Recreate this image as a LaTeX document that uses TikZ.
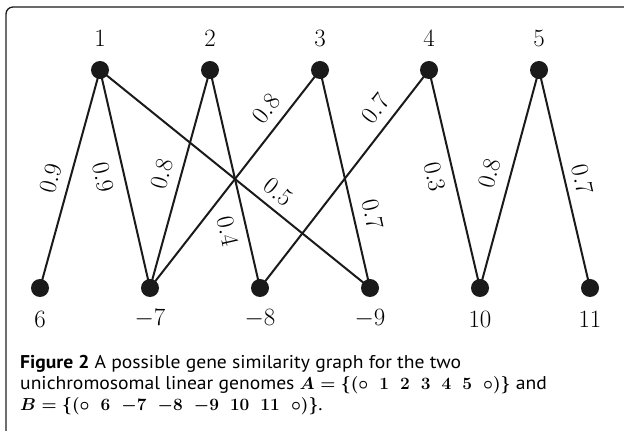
\documentclass[tikz,border=0pt]{standalone}
\usepackage{fontspec}
\usepackage{xcolor}
\usepackage{tikz}
\usetikzlibrary{positioning}
\newfontfamily\capfont[FakeStretch=1.06]{PT Sans}
\definecolor{ink}{HTML}{1A1A1A}
\definecolor{rule}{HTML}{6E6E6E}
\newcommand\gsp{\mskip 10mu}
\tikzset{
  vtx/.style={circle, fill=ink, inner sep=0pt, minimum size=18pt},
  vlbl/.style={font=\fontsize{30}{30}\selectfont, inner sep=0pt},
  edge/.style={draw=ink, line width=2pt},
  wlbl/.style={font=\fontsize{26}{26}\selectfont, sloped, inner sep=0pt},
}
\begin{document}
\begin{tikzpicture}[x=1pt, y=1pt]
        \useasboundingbox (0,0) rectangle (624,431);
        % Frame
        \draw[rule, line width=1.3pt] (6,0) -- (6,417);
        \draw[ink, line width=1.3pt] (6,417) arc[start angle=180, end angle=90, radius=7] -- (624,424);
        % Genes of A
        \node[vtx] (t1) at (100,361) {};
        \node[vtx] (t2) at (210,361) {};
        \node[vtx] (t3) at (320,361) {};
        \node[vtx] (t4) at (429,361) {};
        \node[vtx] (t5) at (539,361) {};
        % Genes of B
        \node[vtx] (b6) at (40,143) {};
        \node[vtx] (b7) at (150,143) {};
        \node[vtx] (b8) at (260,143) {};
        \node[vtx] (b9) at (370,143) {};
        \node[vtx] (b10) at (480,143) {};
        \node[vtx] (b11) at (590,143) {};
        % Labels
        \node[vlbl] (l1) at (100,393) {$1$};
        \node[vlbl] (l2) at (210,393) {$2$};
        \node[vlbl] (l3) at (320,393) {$3$};
        \node[vlbl] (l4) at (429,393) {$4$};
        \node[vlbl] (l5) at (539,393) {$5$};
        \node[vlbl] (l6) at (40,112) {$6$};
        \node[vlbl] (l7) at (150,112) {$-7$};
        \node[vlbl] (l8) at (260,112) {$-8$};
        \node[vlbl] (l9) at (370,112) {$-9$};
        \node[vlbl] (l10) at (480,112) {$10$};
        \node[vlbl] (l11) at (590,112) {$11$};
        % Similarity edges
        \draw[edge] (t1.center) -- node[wlbl, above=10pt, pos=0.52] {$0.9$} (b6.center);
        \draw[edge] (t1.center) -- node[wlbl, below=12pt, pos=0.47] {$0.9$} (b7.center);
        \draw[edge] (t1.center) -- node[wlbl, above=8pt, pos=0.62] {$0.5$} (b9.center);
        \draw[edge] (t2.center) -- node[wlbl, above=10pt, pos=0.5] {$0.8$} (b7.center);
        \draw[edge] (t2.center) -- node[wlbl, below=10pt, pos=0.72] {$0.4$} (b8.center);
        \draw[edge] (t3.center) -- node[wlbl, above=10pt, pos=0.23] {$0.8$} (b7.center);
        \draw[edge] (t3.center) -- node[wlbl, above=10pt, pos=0.68] {$0.7$} (b9.center);
        \draw[edge] (t4.center) -- node[wlbl, above=10pt, pos=0.23] {$0.7$} (b8.center);
        \draw[edge] (t4.center) -- node[wlbl, below=10pt, pos=0.47] {$0.3$} (b10.center);
        \draw[edge] (t5.center) -- node[wlbl, above=12pt, pos=0.5] {$0.8$} (b10.center);
        \draw[edge] (t5.center) -- node[wlbl, above=8pt, pos=0.52] {$0.7$} (b11.center);
        % Caption
        \node[anchor=base west, align=left, inner sep=0pt,
              font=\capfont\fontsize{18.5}{21}\selectfont] (cap) at (20,20)
          {\textbf{Figure 2} A possible gene similarity graph for the two\\
           unichromosomal linear genomes {\boldmath$A=\{(\circ\gsp 1\gsp 2\gsp 3\gsp 4\gsp 5\gsp \circ)\}$} and\\
           {\boldmath$B=\{(\circ\gsp 6\gsp {-7}\gsp {-8}\gsp {-9}\gsp 10\gsp 11\gsp \circ)\}$}.};
      \end{tikzpicture}
\end{document}
